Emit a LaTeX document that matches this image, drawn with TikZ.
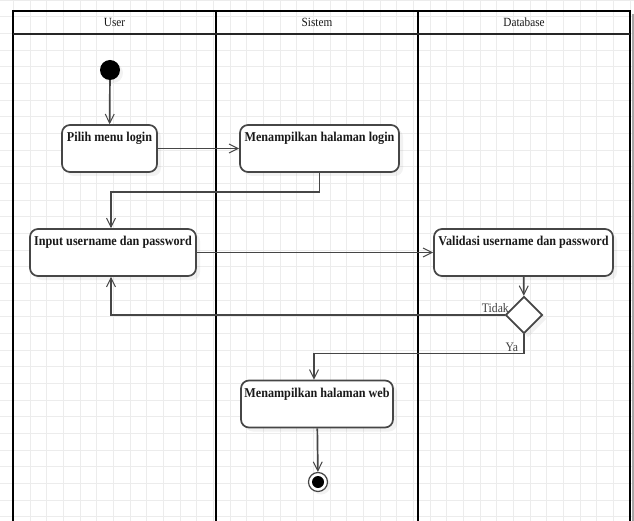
\documentclass[tikz,border=0pt]{standalone}
\usepackage{fontspec}
\usepackage{tikz}
\usepackage{xcolor}
\usetikzlibrary{arrows.meta}
\usetikzlibrary{shapes.geometric}
\usetikzlibrary{shadows}
\newfontfamily\diafont[FakeStretch=0.9]{Liberation Serif}
\definecolor{line1}{RGB}{70, 70, 70}
\definecolor{grid1}{RGB}{236, 236, 236}
\definecolor{ink1}{RGB}{25, 25, 25}
\tikzset{
thickline/.style={line width=1.7pt},
gridline/.style={grid1, line width=0.7pt},
lane/.style={black, line width=2.4pt},
headline/.style={black!85, line width=2pt},
lanehead/.style={inner sep=0pt, text=ink1, font=\diafont\fontsize{12.5}{14}\selectfont},
activity/.style={
	draw=line1, thickline, rounded corners=8pt, fill=white,
	inner xsep=2pt, inner ysep=0pt, text height=17pt, text depth=30pt,
	text=ink1, font=\diafont\bfseries\fontsize{13.5}{15}\selectfont,
	drop shadow={shadow xshift=4pt, shadow yshift=-4pt, opacity=0.1}
},
decision/.style={diamond, draw=line1, thickline, fill=white, inner sep=0pt,
	minimum width=37pt, minimum height=37pt,
	drop shadow={shadow xshift=4pt, shadow yshift=-4pt, opacity=0.1}},
startnode/.style={circle, fill=black, inner sep=0pt, minimum size=20pt,
	drop shadow={shadow xshift=3pt, shadow yshift=-3pt, opacity=0.1}},
endnode/.style={circle, draw=line1, line width=1.2pt, fill=white, inner sep=0pt, minimum size=19pt,
	path picture={\fill[black] (path picture bounding box.center) circle (6pt);},
	drop shadow={shadow xshift=3pt, shadow yshift=-3pt, opacity=0.1}},
flow/.style={line1, thickline, -{Straight Barb[length=9pt,width=9pt,line width=1pt]}},
guard/.style={inner sep=0pt, text=black!75, font=\diafont\fontsize{13}{14}\selectfont},
}

\begin{document}
\begin{tikzpicture}[x=1pt, y=-1pt]
\useasboundingbox (0,0) rectangle (634,521);
\fill[white] (0,0) rectangle (634,521);

%Background grid
\foreach \i in {0,...,38}
	\draw[gridline] ({13.33+(\i-1)*16.667},0) -- ({13.33+(\i-1)*16.667},521);
\foreach \j in {0,...,31}
	\draw[gridline] (0,{\j*16.667}) -- (634,{\j*16.667});

%Swimlanes
\fill[black!35] (631.5,14) rectangle (634,521);
\draw[lane] (13,521) -- (13,11) -- (630,11) -- (630,521);
\draw[lane] (216,11) -- (216,521);
\draw[lane] (418,11) -- (418,521);
\draw[headline] (13,34) -- (630,34);

\node[lanehead] (huser) at (114.5,22.5) {User};
\node[lanehead] (hsistem) at (317,22.5) {Sistem};
\node[lanehead] (hdb) at (524,22.5) {Database};

%Place the nodes
\node[startnode] (start) at (110,70) {};
\node[activity, minimum width=95pt] (pilih) at (109.5,148.5) {Pilih menu login};
\node[activity, minimum width=159pt] (login) at (319.5,148.5) {Menampilkan halaman login};
\node[activity, minimum width=166pt] (input) at (113,252.5) {Input username dan password};
\node[activity, minimum width=179pt] (valid) at (523.5,252.5) {Validasi username dan password};
\node[decision] (dec) at (524,315) {};
\node[activity, minimum width=152pt] (web) at (317,404) {Menampilkan halaman web};
\node[endnode] (end) at (318,482) {};

%Connect them
\draw[flow] (start) -- (pilih);
\draw[flow] (pilih) -- (login);
\draw[flow] (login.south) -- ++(0,19) -| ([xshift=-2pt]input.north);
\draw[flow] (input) -- (valid);
\draw[flow] (valid) -- (dec);
\draw[flow] (dec.west) node[guard, anchor=south east, xshift=5pt, yshift=2pt] (tidak) {Tidak}
	-| ([xshift=-2pt]input.south);
\draw[flow] (dec.south) -- ++(0,19) node[guard, anchor=south east, xshift=-5pt, yshift=1pt] (ya) {Ya}
	-| ([xshift=-3pt]web.north);
\draw[flow] (web) -- (end);

\end{tikzpicture}
\end{document}
